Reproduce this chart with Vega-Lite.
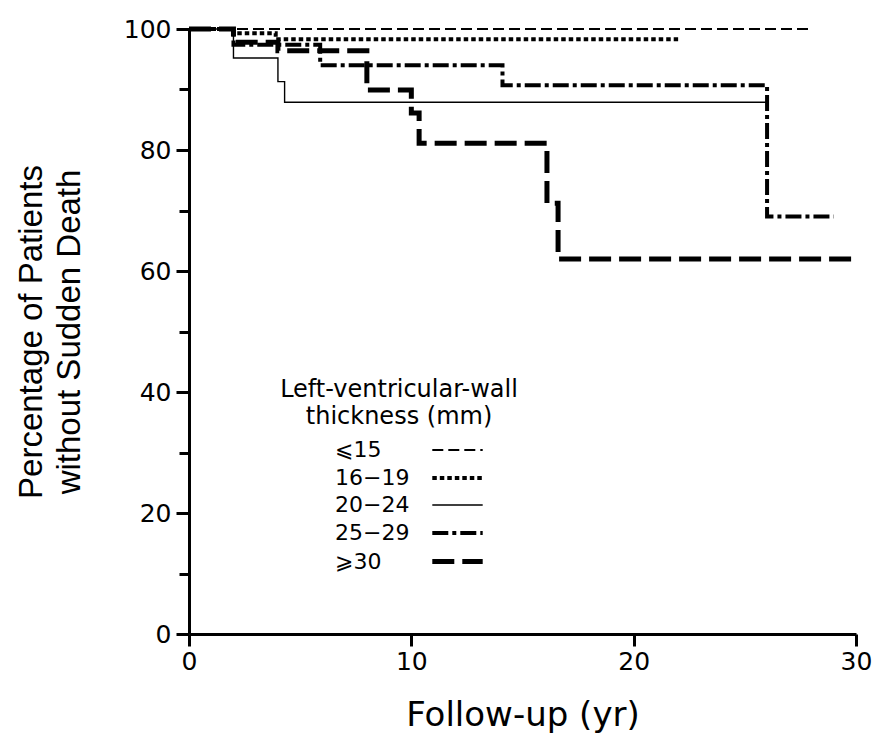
{
  "$schema": "https://vega.github.io/schema/vega-lite/v6.json",
  "width": 667,
  "height": 605,
  "autosize": "none",
  "padding": {"left": 189, "top": 29, "right": 23, "bottom": 110},
  "background": "white",
  "config": {"view": {"stroke": null}, "font": "DejaVu Sans"},
  "data": {
    "values": [
      {"g": "⩽15", "t": 0, "s": 100},
      {"g": "⩽15", "t": 28, "s": 100},
      {"g": "16−19", "t": 0, "s": 100},
      {"g": "16−19", "t": 2, "s": 99.3},
      {"g": "16−19", "t": 3.9, "s": 98.3},
      {"g": "16−19", "t": 22, "s": 98.3},
      {"g": "20−24", "t": 0, "s": 100},
      {"g": "20−24", "t": 2, "s": 95.2},
      {"g": "20−24", "t": 4.0, "s": 91.3},
      {"g": "20−24", "t": 4.3, "s": 87.9},
      {"g": "20−24", "t": 26, "s": 87.9},
      {"g": "25−29", "t": 0, "s": 100},
      {"g": "25−29", "t": 2, "s": 97.4},
      {"g": "25−29", "t": 5.9, "s": 94.0},
      {"g": "25−29", "t": 14.1, "s": 90.7},
      {"g": "25−29", "t": 26.0, "s": 69.0},
      {"g": "25−29", "t": 29, "s": 69.0},
      {"g": "⩾30", "t": 0, "s": 100},
      {"g": "⩾30", "t": 2, "s": 97.8},
      {"g": "⩾30", "t": 4, "s": 96.4},
      {"g": "⩾30", "t": 8, "s": 89.9},
      {"g": "⩾30", "t": 10, "s": 86.1},
      {"g": "⩾30", "t": 10.35, "s": 81.1},
      {"g": "⩾30", "t": 16.1, "s": 71.2},
      {"g": "⩾30", "t": 16.6, "s": 62.0},
      {"g": "⩾30", "t": 30, "s": 62.0}
    ]
  },
  "mark": {"type": "line", "interpolate": "step-after", "color": "black", "strokeCap": "butt", "strokeJoin": "miter"},
  "encoding": {
    "x": {
      "field": "t", "type": "quantitative",
      "scale": {"domain": [0, 30], "nice": false},
      "axis": {
        "title": "Follow-up (yr)", "titleFont": "DejaVu Sans", "titleFontSize": 34, "titleFontWeight": "normal", "titleColor": "black", "titlePadding": 24,
        "values": [0, 10, 20, 30], "tickSize": 12, "tickWidth": 3, "tickColor": "black",
        "domainWidth": 3, "domainColor": "black",
        "labelFont": "DejaVu Sans", "labelFontSize": 25, "labelColor": "black", "labelPadding": 3, "labelFlush": false, "grid": false
      }
    },
    "y": {
      "field": "s", "type": "quantitative",
      "scale": {"domain": [0, 100], "nice": false},
      "axis": {
        "title": ["Percentage of Patients", "without Sudden Death"], "titleFont": "Liberation Sans", "titleFontSize": 33, "titleFontWeight": "normal", "titleLineHeight": 38, "titleColor": "black", "titlePadding": 37,
        "values": [0, 10, 20, 30, 40, 50, 60, 70, 80, 90, 100],
        "labelExpr": "datum.value % 20 == 0 ? datum.label : ''",
        "tickSize": {"condition": {"test": "datum.value % 20 != 0", "value": 10}, "value": 13},
        "tickWidth": 3, "tickColor": "black", "domainWidth": 3, "domainColor": "black",
        "labelFont": "DejaVu Sans", "labelFontSize": 25, "labelColor": "black", "labelPadding": 5, "grid": false
      }
    },
    "strokeDash": {
      "field": "g", "type": "ordinal",
      "scale": {"domain": ["⩽15", "16−19", "20−24", "25−29", "⩾30"], "range": [[11, 5], [4.5, 3], [1, 0], [16, 4, 4, 4], [22, 8]]},
      "legend": {
        "title": ["Left-ventricular-wall", "thickness (mm)"],
        "orient": "none", "legendX": 91, "legendY": 349,
        "titleFont": "DejaVu Sans", "titleFontSize": 24, "titleFontWeight": "normal", "titleAlign": "center", "titleAnchor": "middle", "titleLineHeight": 27, "titleColor": "black", "titlePadding": 6, "titleLimit": 400,
        "labelFont": "DejaVu Sans", "labelFontSize": 22, "labelColor": "black", "labelLimit": 200,
        "symbolType": "M-1.8,0H1.8", "symbolSize": 784, "symbolStrokeColor": "black",
        "symbolOffset": 135, "labelOffset": -139, "rowPadding": 1, "padding": 0
      }
    },
    "strokeWidth": {
      "field": "g", "type": "ordinal",
      "scale": {"type": "ordinal", "domain": ["⩽15", "16−19", "20−24", "25−29", "⩾30"], "range": [2, 4, 1.4, 4, 5]}
    }
  }
}
